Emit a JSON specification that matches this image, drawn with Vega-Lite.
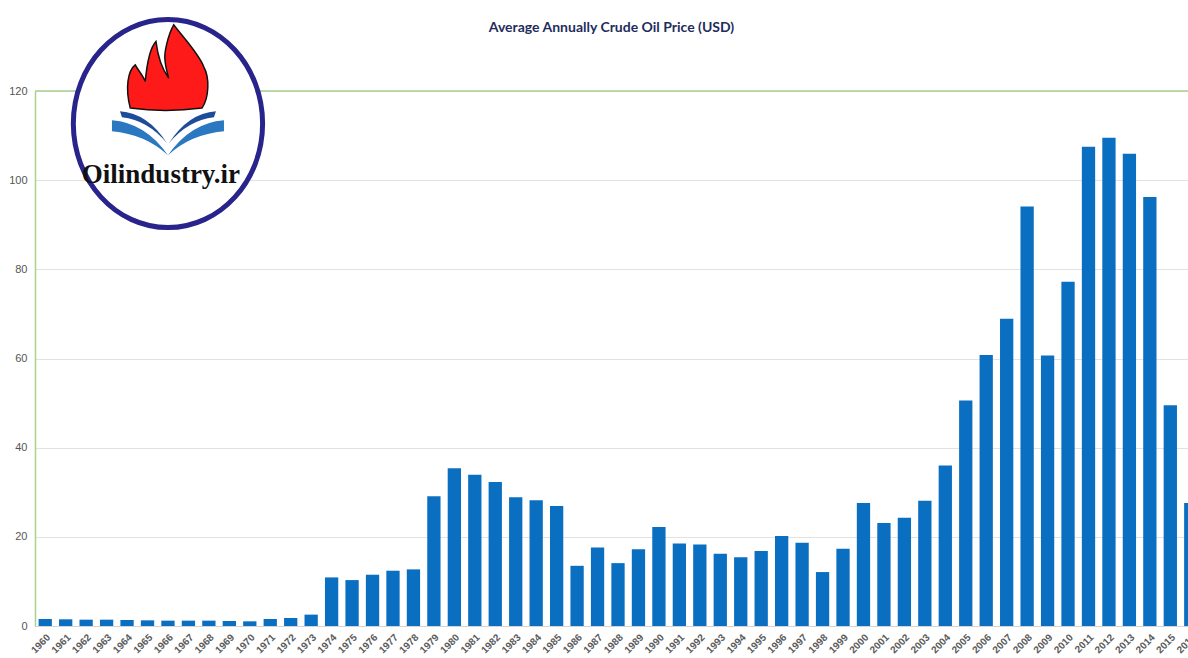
{
  "$schema": "https://vega.github.io/schema/vega-lite/v6.json",
  "width": 1153,
  "height": 535,
  "autosize": {"type": "none"},
  "padding": {"left": 35, "top": 91, "right": 0, "bottom": 32},
  "background": "white",
  "title": {
    "text": "Average Annually Crude Oil Price (USD)",
    "font": "Lato",
    "fontSize": 14,
    "fontWeight": "bold",
    "color": "#1f2d5c",
    "anchor": "middle",
    "frame": "group",
    "baseline": "bottom",
    "offset": -39
  },
  "config": {"view": {"stroke": null}, "font": "Liberation Sans"},
  "layer": [
    {
      "data": {
        "values": [
          {"year": "1960", "price": 1.57}, {"year": "1961", "price": 1.5}, {"year": "1962", "price": 1.42},
          {"year": "1963", "price": 1.42}, {"year": "1964", "price": 1.35}, {"year": "1965", "price": 1.27},
          {"year": "1966", "price": 1.2}, {"year": "1967", "price": 1.2}, {"year": "1968", "price": 1.2},
          {"year": "1969", "price": 1.12}, {"year": "1970", "price": 1.05}, {"year": "1971", "price": 1.57},
          {"year": "1972", "price": 1.8}, {"year": "1973", "price": 2.55}, {"year": "1974", "price": 10.9},
          {"year": "1975", "price": 10.3}, {"year": "1976", "price": 11.5}, {"year": "1977", "price": 12.4},
          {"year": "1978", "price": 12.7}, {"year": "1979", "price": 29.1}, {"year": "1980", "price": 35.4},
          {"year": "1981", "price": 33.9}, {"year": "1982", "price": 32.3}, {"year": "1983", "price": 28.9},
          {"year": "1984", "price": 28.2}, {"year": "1985", "price": 26.9}, {"year": "1986", "price": 13.5},
          {"year": "1987", "price": 17.6}, {"year": "1988", "price": 14.1}, {"year": "1989", "price": 17.2},
          {"year": "1990", "price": 22.2}, {"year": "1991", "price": 18.5}, {"year": "1992", "price": 18.3},
          {"year": "1993", "price": 16.2}, {"year": "1994", "price": 15.4}, {"year": "1995", "price": 16.8},
          {"year": "1996", "price": 20.2}, {"year": "1997", "price": 18.7}, {"year": "1998", "price": 12.1},
          {"year": "1999", "price": 17.3}, {"year": "2000", "price": 27.6}, {"year": "2001", "price": 23.1},
          {"year": "2002", "price": 24.3}, {"year": "2003", "price": 28.1}, {"year": "2004", "price": 36.0},
          {"year": "2005", "price": 50.6}, {"year": "2006", "price": 60.8}, {"year": "2007", "price": 68.9},
          {"year": "2008", "price": 94.1}, {"year": "2009", "price": 60.7}, {"year": "2010", "price": 77.2},
          {"year": "2011", "price": 107.5}, {"year": "2012", "price": 109.5}, {"year": "2013", "price": 105.9},
          {"year": "2014", "price": 96.2}, {"year": "2015", "price": 49.5}, {"year": "2016", "price": 27.6}
        ]
      },
      "mark": {"type": "bar", "color": "#0b6fc1"},
      "encoding": {
        "x": {
          "field": "year",
          "type": "nominal",
          "sort": null,
          "scale": {"paddingInner": 0.35, "paddingOuter": 0.175, "range": [0, 1166]},
          "axis": {
            "title": null,
            "labelAngle": -45,
            "labelFontSize": 10,
            "labelFontWeight": "bold",
            "labelColor": "#5a5a5a",
            "labelPadding": 6,
            "ticks": false,
            "domainColor": "#d4d4d4",
            "grid": false
          }
        },
        "y": {
          "field": "price",
          "type": "quantitative",
          "scale": {"domain": [0, 120], "nice": false},
          "axis": {
            "title": null,
            "values": [0, 20, 40, 60, 80, 100, 120],
            "labelFontSize": 11,
            "labelColor": "#555555",
            "labelPadding": 8,
            "ticks": false,
            "domainColor": "#a9d18e",
            "domainWidth": 1.5,
            "gridColor": "#e2e2e2",
            "grid": true
          }
        }
      }
    },
    {
      "data": {"values": [{"label": "top"}]},
      "mark": {"type": "rule", "color": "#a9d18e", "strokeWidth": 1.5},
      "encoding": {"y": {"datum": 120, "type": "quantitative"}}
    },
    {
      "data": {"values": [{"label": "logo"}]},
      "mark": {
        "type": "point",
        "shape": "M-0.91,0 A0.91,1 0 1,0 0.91,0 A0.91,1 0 1,0 -0.91,0 Z",
        "size": 43264,
        "filled": true,
        "fill": "white",
        "stroke": "#28248c",
        "strokeWidth": 5,
        "opacity": 1
      },
      "encoding": {
        "x": {"datum": "1966", "type": "nominal"},
        "y": {"datum": 112.7, "type": "quantitative"}
      }
    },
    {
      "data": {"values": [{"label": "flame"}]},
      "mark": {
        "type": "point",
        "shape": "M-0.754,0.806 Q-0.06,0.9 0.68,0.806 C0.82,0.6 0.84,0.2 0.714,-0.026 C0.6,-0.3 0.35,-0.55 0.114,-0.86 C0,-0.65 -0.08,-0.3 -0.06,-0.16 C-0.05,0 0,0.15 0.014,0.206 C-0.1,0.05 -0.2,-0.2 -0.24,-0.526 C-0.36,-0.4 -0.42,-0.1 -0.454,0.274 C-0.5,0.15 -0.6,0.05 -0.654,-0.06 C-0.8,0.05 -0.86,0.4 -0.754,0.806 Z",
        "size": 10000,
        "filled": true,
        "fill": "#ff1a1a",
        "stroke": "#111111",
        "strokeWidth": 1.5,
        "opacity": 1
      },
      "encoding": {
        "x": {"datum": "1966", "type": "nominal"},
        "y": {"datum": 125.2, "type": "quantitative"}
      }
    },
    {
      "data": {"values": [{"label": "book-lower"}]},
      "mark": {
        "type": "point",
        "shape": "M-1.12,-0.3 L-1.12,-0.08 Q-0.45,-0.02 0,0.4 Q-0.45,-0.25 -1.12,-0.3 Z M1.12,-0.3 L1.12,-0.08 Q0.45,-0.02 0,0.4 Q0.45,-0.25 1.12,-0.3 Z",
        "size": 10000,
        "filled": true,
        "fill": "#2b78c2",
        "strokeWidth": 0,
        "opacity": 1
      },
      "encoding": {
        "x": {"datum": "1966", "type": "nominal"},
        "y": {"datum": 110.1, "type": "quantitative"}
      }
    },
    {
      "data": {"values": [{"label": "book-upper"}]},
      "mark": {
        "type": "point",
        "shape": "M-0.96,-0.48 L-0.92,-0.36 Q-0.4,-0.3 -0.02,0.16 Q-0.4,-0.44 -0.96,-0.48 Z M0.96,-0.48 L0.92,-0.36 Q0.4,-0.3 0.02,0.16 Q0.4,-0.44 0.96,-0.48 Z",
        "size": 10000,
        "filled": true,
        "fill": "#1d4d99",
        "strokeWidth": 0,
        "opacity": 1
      },
      "encoding": {
        "x": {"datum": "1966", "type": "nominal"},
        "y": {"datum": 110.1, "type": "quantitative"}
      }
    },
    {
      "data": {"values": [{"label": "Oilindustry.ir"}]},
      "mark": {
        "type": "text",
        "font": "Liberation Serif",
        "fontWeight": "bold",
        "fontSize": 27,
        "color": "#111111",
        "align": "center",
        "baseline": "alphabetic",
        "dx": -7
      },
      "encoding": {
        "x": {"datum": "1966", "type": "nominal"},
        "y": {"datum": 99.3, "type": "quantitative"},
        "text": {"field": "label"}
      }
    }
  ]
}
